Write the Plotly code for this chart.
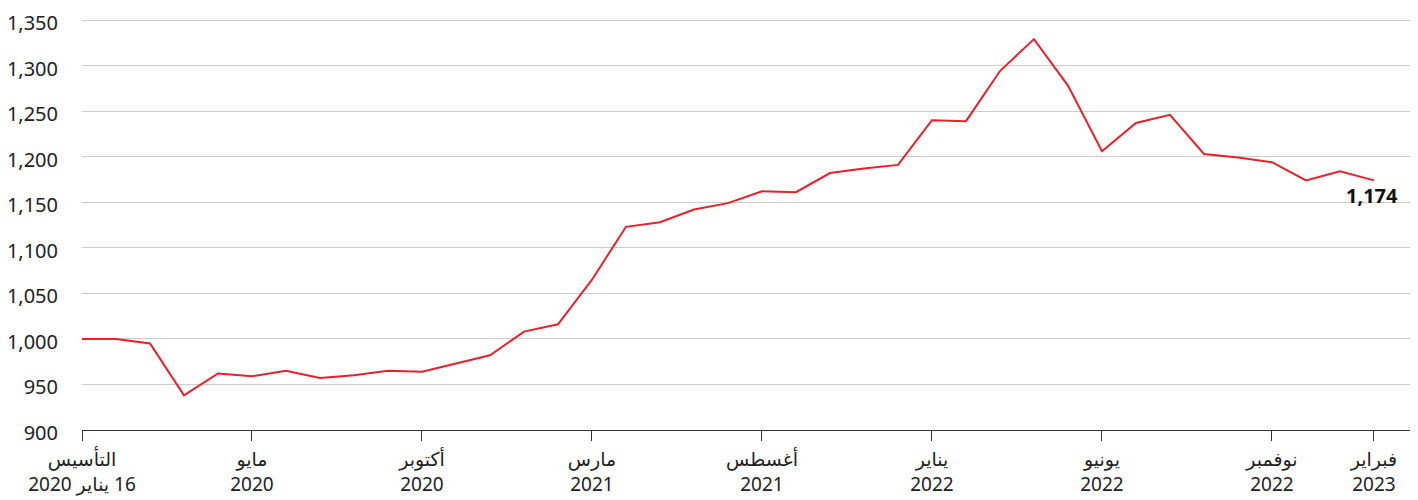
import plotly.graph_objects as go

values = [1000, 1000, 995, 938, 962, 959, 965, 957, 960, 965, 964, 973, 982,
          1008, 1016, 1065, 1123, 1128, 1142, 1149, 1162, 1161, 1182, 1187,
          1191, 1240, 1239, 1294, 1329, 1278, 1206, 1237, 1246, 1203, 1199,
          1194, 1174, 1184, 1174]
x_idx = list(range(len(values)))

tick_positions = [0, 5, 10, 15, 20, 25, 30, 35, 38]
tick_labels = [
    "التأسيس<br>\u200f16 يناير 2020",
    "مايو<br>2020",
    "أكتوبر<br>2020",
    "مارس<br>2021",
    "أغسطس<br>2021",
    "يناير<br>2022",
    "يونيو<br>2022",
    "نوفمبر<br>2022",
    "فبراير<br>2023",
]
y_ticks = [900, 950, 1000, 1050, 1100, 1150, 1200, 1250, 1300, 1350]
last_label = "1,174"

FONT = "Noto Sans, DejaVu Sans, sans-serif"

fig = go.Figure()
fig.add_trace(go.Scatter(
    x=x_idx, y=values, mode="lines",
    line=dict(color="#e8202a", width=2),
    hoverinfo="skip", showlegend=False,
))

fig.add_annotation(
    x=x_idx[-1], y=values[-1], text="<b>" + last_label + "</b>",
    showarrow=False, yshift=-15, xshift=-2,
    font=dict(family=FONT, size=20, color="#111111"),
)

fig.update_layout(
    width=1418, height=500,
    margin=dict(l=74, r=16, t=10, b=78),
    plot_bgcolor="white", paper_bgcolor="white",
    font=dict(family=FONT, size=18, color="#222222"),
)
fig.update_xaxes(
    range=[0, 39.06], automargin=False,
    tickmode="array", tickvals=tick_positions, ticktext=tick_labels,
    showgrid=False, zeroline=False,
    showline=True, linecolor="#333333", linewidth=1.2,
    ticks="outside", ticklen=10, tickcolor="#333333", tickwidth=1.2,
    tickfont=dict(family=FONT, size=19, color="#222222"),
    ticklabeloverflow="allow", ticklabelstandoff=2,
)
fig.update_yaxes(
    range=[900, 1352.2], automargin=False,
    tickmode="array", tickvals=y_ticks,
    tickformat=",d",
    showgrid=True, gridcolor="#cccccc", gridwidth=1,
    zeroline=False, showline=False,
    ticks="", ticklabelstandoff=23, ticklabelshift=3,
    tickfont=dict(family=FONT, size=20, color="#222222"),
    ticklabeloverflow="allow",
)

fig.write_html("out.html")
